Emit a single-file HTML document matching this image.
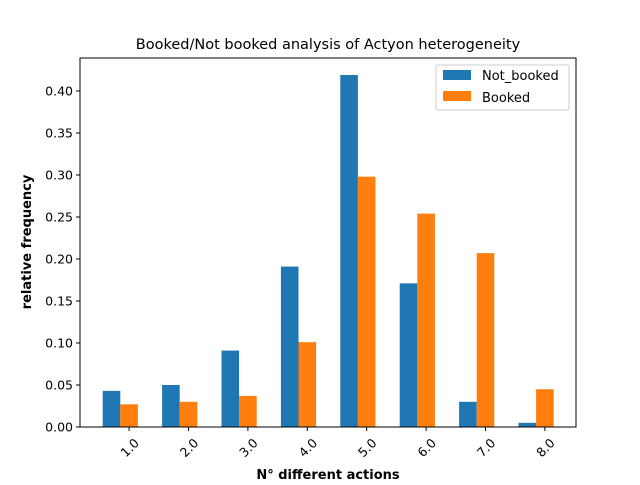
<!DOCTYPE html>
<html><head><meta charset="utf-8"><style>
body{margin:0;background:#fff;}
svg text{font-family:"DejaVu Sans","Liberation Sans",sans-serif;fill:#000;}
</style></head><body>
<svg id="chart" width="640" height="480" viewBox="0 0 640 480" xmlns="http://www.w3.org/2000/svg">
<rect width="640" height="480" fill="#fff"/>
<text x="328" y="49" font-size="14.5" text-anchor="middle">Booked/Not booked analysis of Actyon heterogeneity</text>
<g id="bars"></g><g id="axes"></g>
<text x="328" y="479" font-size="13" font-weight="bold" text-anchor="middle">N° different actions</text>
<text transform="translate(31,242) rotate(-90)" font-size="13" font-weight="bold" text-anchor="middle">relative frequency</text>
<g>
<rect x="436" y="65" width="133" height="45" rx="2" fill="#fff" stroke="#ccc"/>
<rect x="443" y="70" width="28" height="10" fill="#1f77b4"/>
<text x="482" y="80" font-size="13">Not_booked</text>
<rect x="443" y="91" width="28" height="10" fill="#ff7f0e"/>
<text x="482" y="102" font-size="13">Booked</text>
</g>
</svg>
<script>
const categories=["1.0","2.0","3.0","4.0","5.0","6.0","7.0","8.0"];
const notBooked=[0.043,0.050,0.091,0.191,0.419,0.171,0.030,0.005];
const booked=[0.027,0.030,0.037,0.101,0.298,0.254,0.207,0.045];
const yTicks=[0,0.05,0.10,0.15,0.20,0.25,0.30,0.35,0.40];
const NS="http://www.w3.org/2000/svg";
const L=80,R=576,T=58,B=427;
const y=v=>B-v*(42/0.05);
const step=59.4,bw=17.6;
const xg=i=>120.3+i*step;
const bars=document.getElementById('bars'),axes=document.getElementById('axes');
function mk(tag,attrs,parent){const e=document.createElementNS(NS,tag);for(const k in attrs)e.setAttribute(k,attrs[k]);parent.appendChild(e);return e;}
categories.forEach((c,i)=>{
 const b1=mk('rect',{x:xg(i)-bw,y:y(notBooked[i]),width:bw,height:B-y(notBooked[i]),fill:'#1f77b4'},bars);
 
 
 const b2=mk('rect',{x:xg(i),y:y(booked[i]),width:bw,height:B-y(booked[i]),fill:'#ff7f0e'},bars);
 
 
 const tx=xg(i)+bw/2;
 mk('line',{x1:tx,x2:tx,y1:B,y2:B+4,stroke:'#000','stroke-width':1},axes);
 const t=mk('text',{transform:`translate(${tx+4},${B+10}) rotate(-45)`,'font-size':12.5,'text-anchor':'end','dominant-baseline':'hanging'},axes);
 t.textContent=c;
 
 
});
yTicks.forEach(v=>{
 mk('line',{x1:L-4,x2:L,y1:y(v),y2:y(v),stroke:'#000','stroke-width':1},axes);
 const t=mk('text',{x:L-7,y:y(v)+4.5,'font-size':12.5,'text-anchor':'end'},axes);
 t.textContent=v.toFixed(2);
 
 
});
const fr=mk('rect',{x:L,y:T,width:R-L,height:B-T,fill:'none',stroke:'#000','stroke-width':1},axes);


</script>
</body></html>
